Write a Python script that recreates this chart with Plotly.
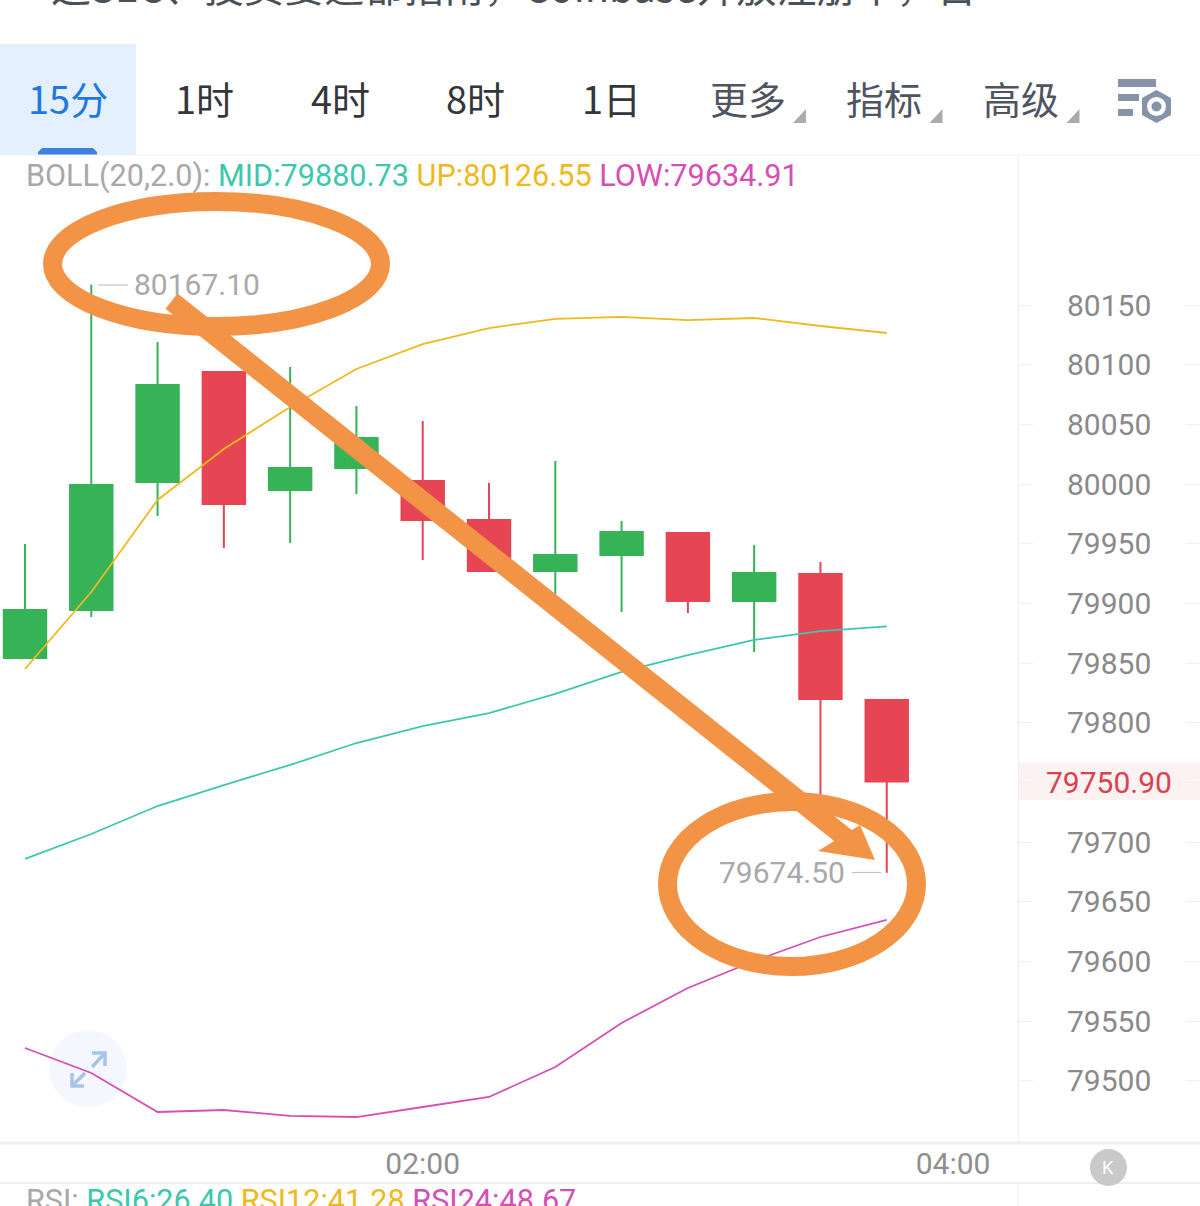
import plotly.graph_objects as go

W, H = 1200, 1206

times = ["00:30", "00:45", "01:00", "01:15", "01:30", "01:45", "02:00",
         "02:15", "02:30", "02:45", "03:00", "03:15", "03:30", "03:45"]
opens = [79854.3, 79894.5, 80001.7, 80093.9, 79995.0, 80013.5, 80002.6,
         79969.9, 79927.2, 79940.6, 79959.0, 79902.1, 79924.7, 79819.1]
closes = [79894.5, 79999.2, 80083.0, 79983.3, 80013.5, 80038.6, 79969.9,
          79927.2, 79940.6, 79959.9, 79902.1, 79925.5, 79820.0, 79750.9]
highs = [79949.8, 80167.1, 80119.0, 80094.7, 80098.1, 80065.4, 80052.8,
         80000.9, 80019.3, 79969.1, 79959.0, 79949.0, 79934.7, 79820.0]
lows = [79854.3, 79888.7, 79973.3, 79946.4, 79950.6, 79991.7, 79936.4,
        79927.2, 79907.9, 79892.8, 79892.0, 79859.3, 79722.8, 79674.5]

boll_up = [79845.1, 79909.6, 79986.7, 80029.4, 80064.6, 80096.4, 80117.3,
           80130.7, 80138.3, 80140.0, 80137.4, 80139.1, 80132.4, 80126.55]
boll_mid = [79686.0, 79706.9, 79730.3, 79747.9, 79764.7, 79783.1, 79797.3,
            79808.2, 79824.2, 79842.6, 79856.8, 79869.4, 79876.9, 79880.73]
boll_low = [79527.6, 79506.7, 79474.0, 79475.7, 79470.7, 79469.8, 79478.2,
            79486.6, 79511.7, 79548.6, 79577.9, 79600.5, 79620.6, 79634.91]

price_ticks = [79500, 79550, 79600, 79650, 79700, 79750, 79800, 79850,
               79900, 79950, 80000, 80050, 80100, 80150]
time_ticks = ["02:00", "04:00"]
tabs = ["15分", "1时", "4时", "8时", "1日", "更多", "指标", "高级"]
last_price = "79750.90"
max_label = "80167.10"
min_label = "79674.50"
header_text = "这SEC、投资要追都指南，Coinbase开放注册中，百"

UP, DOWN = "#36b357", "#e64553"
TEAL, GOLD, PINK = "#3cc8ad", "#eeb91f", "#d54fb5"
ORANGE = "#f39346"
GRID = "#efefef"
FONT = "Roboto, sans-serif"
CJK = "'Noto Sans CJK SC', sans-serif"


def px(x):
    return x / W


def py(y):
    return 1 - y / H


def pth(points, close=True):
    s = "M " + " L ".join(f"{px(x):.5f},{py(y):.5f}" for x, y in points)
    return s + (" Z" if close else "")


fig = go.Figure()
fig.add_trace(go.Candlestick(
    x=times, open=opens, high=highs, low=lows, close=closes,
    increasing=dict(line=dict(color=UP, width=2), fillcolor=UP),
    decreasing=dict(line=dict(color=DOWN, width=2), fillcolor=DOWN),
    whiskerwidth=0, showlegend=False, hoverinfo="skip",
))
for vals, col in [(boll_up, GOLD), (boll_mid, TEAL), (boll_low, PINK)]:
    fig.add_trace(go.Scatter(x=times, y=vals, mode="lines",
                             line=dict(color=col, width=1.8), showlegend=False,
                             hoverinfo="skip"))
fig.add_trace(go.Scatter(x=[times[0]], y=[price_ticks[0]], yaxis="y2", mode="markers",
                         marker=dict(opacity=0), showlegend=False, hoverinfo="skip"))

shapes = []


def rect(x0, y0, x1, y1, color, layer="below"):
    shapes.append(dict(type="rect", xref="paper", yref="paper", x0=px(x0), x1=px(x1),
                       y0=py(y1), y1=py(y0), fillcolor=color, line=dict(width=0), layer=layer))


def hline(y, width=1):
    shapes.append(dict(type="line", xref="paper", yref="paper", x0=0, x1=1, y0=py(y), y1=py(y),
                       line=dict(color=GRID, width=width), layer="below"))


def ring(x0, y0, x1, y1):
    shapes.append(dict(type="circle", xref="paper", yref="paper", x0=px(x0), x1=px(x1),
                       y0=py(y1), y1=py(y0), line=dict(color=ORANGE, width=19), layer="above"))


def poly(points, color, layer="above"):
    shapes.append(dict(type="path", xref="paper", yref="paper", path=pth(points),
                       fillcolor=color, line=dict(width=0), layer=layer))


def stroke(points, color, width, layer="above"):
    shapes.append(dict(type="path", xref="paper", yref="paper", path=pth(points, close=False),
                       line=dict(color=color, width=width), layer=layer))


# toolbar
rect(0, 44, 136, 155, "#e4f0fd")
poly([(38, 155), (38, 152), (42, 148), (93, 148), (97, 152), (97, 155)], "#3d82e0", "below")
hline(155)
hline(1143, 3)
hline(1183, 2)
stroke([(1018, 1183), (1018, 1206)], GRID, 1, "below")
for x in (793, 929.5, 1066.5):
    poly([(x + 13, 109), (x + 13, 123), (x, 123)], "#ababab", "below")
# settings icon
rect(1118, 79, 1156, 87, "#8693a8")
rect(1118, 94, 1139, 101, "#8693a8")
rect(1118, 109, 1133, 116, "#8693a8")
poly([(1156.5, 90), (1171, 98), (1171, 115), (1156.5, 123), (1142, 115), (1142, 98)], "#8693a8", "below")
shapes.append(dict(type="circle", xref="paper", yref="paper", x0=px(1147), x1=px(1166), y0=py(116), y1=py(97),
                   fillcolor="white", line=dict(width=0), layer="below"))
shapes.append(dict(type="circle", xref="paper", yref="paper", x0=px(1151.5), x1=px(1161.5), y0=py(111.5), y1=py(101.5),
                   fillcolor="#8693a8", line=dict(width=0), layer="below"))
# expand button
shapes.append(dict(type="circle", xref="paper", yref="paper", x0=px(49), x1=px(127), y0=py(1107), y1=py(1030),
                   fillcolor="#f4f8fe", line=dict(width=0), layer="below"))
for seg in ([(92, 1067), (105, 1053)], [(92, 1053), (105, 1053), (105, 1066)],
            [(85, 1073), (72, 1086)], [(72, 1073), (72, 1086), (84, 1086)]):
    stroke(seg, "#a9c3e8", 3.5, "below")
# K button
shapes.append(dict(type="circle", xref="paper", yref="paper", x0=px(1090), x1=px(1127), y0=py(1186), y1=py(1149),
                   fillcolor="#c9c9c9", line=dict(width=0), layer="below"))
# last price band
rect(1019, 763, 1200, 800, "#fdf2f2")
# extremum leader lines
stroke([(98, 285), (128, 285)], "#c4c4c4", 1.2, "below")
stroke([(852, 872.5), (881, 872.5)], "#c4c4c4", 1.2, "below")
# orange annotations
ring(52.5, 201.5, 380.5, 326.5)
ring(667.5, 801.5, 916.5, 966.5)
stroke([(171.5, 301), (850, 841)], ORANGE, 19.5)
poly([(818, 851), (860, 825), (875, 860)], ORANGE)

annotations = []


def label(x, y, text, size, color, family=FONT, anchor="center"):
    annotations.append(dict(xref="paper", yref="paper", x=px(x), y=py(y), text=text, showarrow=False,
                            font=dict(size=size, color=color, family=family), xanchor=anchor,
                            yanchor="middle", align="left", borderpad=0))


tab_x = [68, 204, 340, 475, 611, 748, 884, 1021]
tab_colors = ["#1f78e0"] + ["#33363b"] * 4 + ["#4f5560"] * 3
for t, x, c in zip(tabs, tab_x, tab_colors):
    label(x, 98, t, 38, c, CJK)
label(50, -15, header_text, 40, "#4a5058", CJK, "left")


def legend(parts):
    return " ".join(f'<span style="color:{c}">{t}</span>' for t, c in parts)


label(25, 176, legend([("BOLL(20,2.0):", "#a8a8a8"), ("MID:79880.73", TEAL),
                       ("UP:80126.55", GOLD), ("LOW:79634.91", PINK)]), 30.6, "#a8a8a8", FONT, "left")
label(25, 1200, legend([("RSI:", "#a8a8a8"), ("RSI6:26.40", TEAL),
                        ("RSI12:41.28", GOLD), ("RSI24:48.67", PINK)]), 30.6, "#a8a8a8", FONT, "left")
label(197, 284.5, max_label, 30, "#a9a9a9")
label(782, 872.5, min_label, 30, "#a9a9a9")
label(1109, 782, last_price, 30, "#d8414f")
label(1108, 1167, "K", 18, "white")

x_range = [-0.377, 14.98]
y_top = 80150 + 150 / 1.1938
y_bot = 80150 - 838 / 1.1938

fig.update_layout(
    width=W, height=H, margin=dict(l=0, r=0, t=0, b=0),
    paper_bgcolor="white", plot_bgcolor="white", showlegend=False,
    font=dict(family=FONT), shapes=shapes, annotations=annotations,
    boxgap=0.2, boxgroupgap=0.2,
    xaxis=dict(domain=[0, 1018 / W], type="category", categoryorder="array",
               categoryarray=times + ["04:00"], range=x_range, rangeslider=dict(visible=False),
               tickmode="array", tickvals=time_ticks, ticktext=time_ticks, ticks="",
               showgrid=False, zeroline=False, showline=False,
               tickfont=dict(size=30, color="#8f8f8f"), ticklabelstandoff=0),
    yaxis=dict(domain=[py(1143), py(155)], range=[y_bot, y_top], side="right",
               tickmode="array", tickvals=[v for v in price_ticks],
               ticktext=["" if v == 79750 else str(v) for v in price_ticks],
               ticks="outside", ticklen=14, tickcolor=GRID, tickwidth=1,
               showline=True, linecolor=GRID, linewidth=1, showgrid=False, zeroline=False,
               tickfont=dict(size=30, color="#8a8a8a"), ticklabelstandoff=28),
    yaxis2=dict(domain=[py(1143), py(155)], range=[y_bot, y_top], overlaying="y", anchor="free", position=1,
                side="right", tickmode="array", tickvals=price_ticks, ticks="inside", ticklen=14,
                tickcolor=GRID, showticklabels=False, showgrid=False, zeroline=False, showline=False),
)

fig.write_html("out.html", post_script="document.body.style.margin='0';document.body.style.overflow='hidden';",
               config=dict(displayModeBar=False))
